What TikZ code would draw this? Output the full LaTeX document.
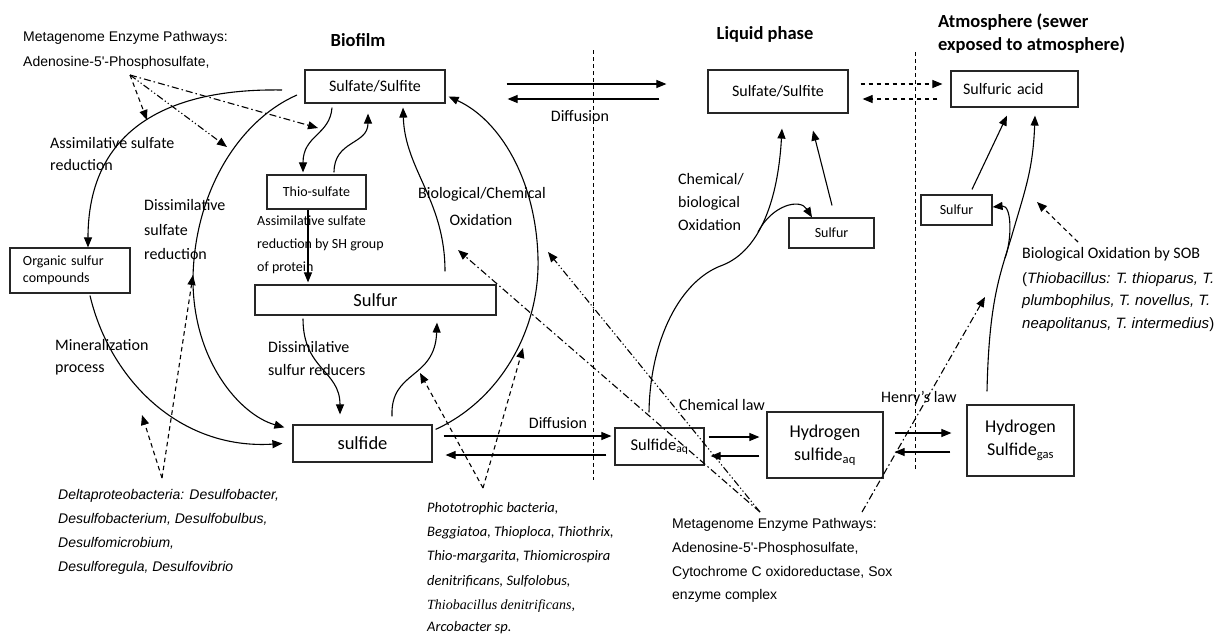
\documentclass[tikz,border=0pt]{standalone}
\usepackage{fontspec}
\setmainfont{Carlito}
\newfontfamily\arialf{Liberation Sans}
\newfontfamily\timesf{Liberation Serif}
\usetikzlibrary{arrows.meta}
\begin{document}
\begin{tikzpicture}[x=1pt,y=-1pt,
  box/.style={draw=black!85,line width=1.2pt,inner sep=0pt,align=center},
  arr/.style={line width=1.1pt,draw=black,-{Triangle[length=10pt,width=8pt]}},
  dsh/.style={line width=1.1pt,dash pattern=on 4.5pt off 3.5pt},
  dd/.style={line width=1.1pt,dash pattern=on 7pt off 3pt on 1.5pt off 3pt},
  ddd/.style={line width=1.1pt,dash pattern=on 7pt off 2.5pt on 1.2pt off 2.5pt on 1.2pt off 2.5pt},
  vline/.style={line width=1pt,dash pattern=on 4pt off 3pt},
  tx/.style={inner sep=0pt,anchor=base west},
  txc/.style={inner sep=0pt,anchor=base},
  f16/.style={font=\fontsize{16}{19}\selectfont},
  f14/.style={font=\fontsize{14}{17}\selectfont},
  f18/.style={font=\fontsize{18.5}{23}\selectfont},
  hd/.style={font=\fontsize{18.5}{22}\selectfont\bfseries},
  ar/.style={font=\arialf\fontsize{14}{17}\selectfont},
  ari/.style={font=\arialf\itshape\fontsize{14}{17}\selectfont},
  sob/.style={font=\arialf\itshape\fontsize{15}{18}\selectfont},
  ph/.style={font=\itshape\fontsize{14.5}{17}\selectfont},
]
\fill[white] (0,0) rectangle (1221,635);
\useasboundingbox (0,0) rectangle (1221,635);

% ---------- boxes ----------
\node[box,f16,minimum width=140pt,minimum height=33pt] (ss1) at (375,86.5) {Sulfate/Sulfite};
\node[box,f14,minimum width=99pt,minimum height=34pt] (thio) at (316.5,192) {Thio-sulfate};
\node[box,f14,minimum width=120pt,minimum height=45pt,text width=94pt,inner xsep=13pt,align=left] (org) at (70,270.5) {Organic sulfur\\compounds};
\node[box,f18,minimum width=241pt,minimum height=30pt] (sulfurB) at (375.5,300) {Sulfur};
\node[box,f18,minimum width=139pt,minimum height=37pt] (sulfide) at (362.5,443.5) {sulfide};
\node[box,f16,minimum width=140pt,minimum height=43pt] (ss2) at (778,91.5) {Sulfate/Sulfite};
\node[box,f14,minimum width=85pt,minimum height=30pt] (sulfurL) at (831.5,233) {Sulfur};
\node[box,f16,minimum width=127pt,minimum height=36pt,text width=103pt,inner xsep=12pt,align=left] (sacid) at (1014.5,89) {Sulfuric acid};
\node[box,f14,minimum width=71pt,minimum height=30pt] (sulfurA) at (956.5,210) {Sulfur};
\node[box,font=\fontsize{16.5}{20}\selectfont,minimum width=89pt,minimum height=37pt] (saq) at (659.5,446.5) {Sulfide\textsubscript{aq}};
\node[box,font=\fontsize{18}{23}\selectfont,minimum width=116pt,minimum height=66pt] (h2saq) at (825,445) {Hydrogen\\sulfide\textsubscript{aq}};
\node[box,font=\fontsize{18}{23}\selectfont,minimum width=107pt,minimum height=71pt] (h2sgas) at (1020.5,440.5) {Hydrogen\\Sulfide\textsubscript{gas}};

% ---------- headings ----------
\node[txc,hd] (hbio) at (358,46) {Biofilm};
\node[txc,hd] (hliq) at (765,39) {Liquid phase};
\node[tx,hd] (hatm1) at (938,27) {Atmosphere (sewer};
\node[tx,hd] (hatm2) at (938,50) {exposed to atmosphere)};

% ---------- labels ----------
\node[tx,ar] (mg1a) at (23,41) {Metagenome Enzyme Pathways:};
\node[tx,ar] (mg1b) at (23,66) {Adenosine-5'-Phosphosulfate,};
\node[tx,f16] (asr1) at (50,148) {Assimilative sulfate};
\node[tx,f16] (asr2) at (50,170) {reduction};
\node[tx,f16] (dsr1) at (144,210) {Dissimilative};
\node[tx,f16] (dsr2) at (144,235) {sulfate};
\node[tx,f16] (dsr3) at (144,259) {reduction};
\node[tx,f16] (min1) at (55,350) {Mineralization};
\node[tx,f16] (min2) at (55,372) {process};
\node[tx,f14] (ash1) at (257,225) {Assimilative sulfate};
\node[tx,f14] (ash2) at (257,248) {reduction by SH group};
\node[tx,f14] (ash3) at (257,271) {of protein};
\node[tx,f16] (dsu1) at (268,352) {Dissimilative};
\node[tx,f16] (dsu2) at (268,375) {sulfur reducers};
\node[txc,f16] (bco1) at (482,198) {Biological/Chemical};
\node[txc,f16] (bco2) at (481,225) {Oxidation};
\node[txc,f16] (dif1) at (580,121) {Diffusion};
\node[txc,f16] (dif2) at (558,428) {Diffusion};
\node[tx,f16] (cbo1) at (678,184) {Chemical/};
\node[tx,f16] (cbo2) at (678,207) {biological};
\node[tx,f16] (cbo3) at (678,230) {Oxidation};
\node[tx,f16] (claw) at (679,410) {Chemical law};
\node[tx,f16] (hlaw) at (881,402) {Henry’s law};
\node[tx,f16] (sob1) at (1022,258) {Biological Oxidation by SOB};
\node[tx,sob] (sob2) at (1022,283) {{\upshape(}Thiobacillus: T. thioparus, T.};
\node[tx,sob] (sob3) at (1022,305) {plumbophilus, T. novellus, T.};
\node[tx,sob] (sob4) at (1022,328) {neapolitanus, T. intermedius{\upshape)}};
\node[tx,ari] (del1) at (58,499) {Deltaproteobacteria: Desulfobacter,};
\node[tx,ari] (del2) at (58,523) {Desulfobacterium, Desulfobulbus,};
\node[tx,ari] (del3) at (58,547) {Desulfomicrobium,};
\node[tx,ari] (del4) at (58,571) {Desulforegula, Desulfovibrio};
\node[tx,ph] (pho1) at (427,512) {Phototrophic bacteria,};
\node[tx,ph] (pho2) at (427,536) {Beggiatoa, Thioploca, Thiothrix,};
\node[tx,ph] (pho3) at (427,560) {Thio-margarita, Thiomicrospira};
\node[tx,ph] (pho4) at (427,585) {denitrificans, Sulfolobus,};
\node[tx,font=\timesf\itshape\fontsize{14}{17}\selectfont] (pho5) at (427,609) {Thiobacillus denitrificans,};
\node[tx,ph] (pho6) at (427,631) {Arcobacter sp.};
\node[tx,ar] (mg2a) at (672,528) {Metagenome Enzyme Pathways:};
\node[tx,ar] (mg2b) at (672,552) {Adenosine-5'-Phosphosulfate,};
\node[tx,ar] (mg2c) at (672,576) {Cytochrome C oxidoreductase, Sox};
\node[tx,ar] (mg2d) at (672,599) {enzyme complex};

% ---------- coordinates ----------
\coordinate (mgA) at (130,75);
\coordinate (mgT1) at (147,120);
\coordinate (mgT2) at (227,147);
\coordinate (mgT3) at (318,128);
\coordinate (oa) at (282,90);
\coordinate (ia) at (297,95);
\coordinate (dA) at (162,478);
\coordinate (dT1) at (142,415);
\coordinate (dT2) at (193,275);
\coordinate (pA) at (483,488);
\coordinate (pT1) at (420,373);
\coordinate (pT2) at (523,348);
\coordinate (mbA) at (760,512);
\coordinate (mbT1) at (458,250);
\coordinate (mbT2) at (548,252);
\coordinate (mbB) at (862,512);
\coordinate (mbT3) at (985,297);
\coordinate (sobA) at (1078,242);
\coordinate (sobT) at (1037,202);
\coordinate (brA) at (1005,258);
\coordinate (brL) at (758,232);
\coordinate (v1a) at (593,50);
\coordinate (v1b) at (593,480);
\coordinate (v2a) at (915,52);
\coordinate (v2b) at (915,470);

% ---------- phase separators ----------
\draw[vline] (v1a) -- (v1b);
\draw[vline] (v2a) -- (v2b);

% ---------- biofilm cycle ----------
\draw[arr] (oa) .. controls (160,88) and (88,135) .. ([xshift=18pt]org.north);
\draw[arr] (ia) .. controls (240,120) and (195,190) .. (193,277) .. controls (192,360) and (240,415) .. ([xshift=-8pt,yshift=-3pt]sulfide.north west);
\draw[arr] ([xshift=20pt,yshift=-2pt]org.south) .. controls (110,380) and (180,450) .. ([xshift=-10pt]sulfide.west);
\draw[arr] ([xshift=3pt,yshift=-5pt]sulfide.north east) .. controls (500,400) and (540,330) .. (538,258) .. controls (536,180) and (500,120) .. ([xshift=3pt,yshift=-10pt]ss1.east);
\draw[arr] ([xshift=-43pt,yshift=-4pt]ss1.south) .. controls (330,135) and (303,135) .. ([xshift=-13.5pt,yshift=2pt]thio.north);
\draw[arr] ([xshift=17.5pt,yshift=2pt]thio.north) .. controls (334,140) and (368,145) .. ([xshift=-7pt,yshift=-10pt]ss1.south);
\draw[arr] ([xshift=69.5pt,yshift=13pt]sulfurB.north) .. controls (445,200) and (405,170) .. ([xshift=28pt,yshift=-4pt]ss1.south);
\draw[arr] ([xshift=-8.5pt]thio.south) -- ([xshift=-67.5pt,yshift=2pt]sulfurB.north);
\draw[arr] ([xshift=-72.5pt,yshift=-3pt]sulfurB.south) .. controls (303,370) and (340,370) .. ([xshift=-22.5pt,yshift=10pt]sulfide.north);
\draw[arr] ([xshift=29.5pt,yshift=8pt]sulfide.north) .. controls (390,370) and (435,380) .. ([xshift=61.5pt,yshift=-7pt]sulfurB.south);

% ---------- diffusion ----------
\draw[arr] ([xshift=61pt,yshift=2.5pt]ss1.east) -- ([xshift=-41pt,yshift=7.5pt]ss2.west);
\draw[arr] ([xshift=-48pt,yshift=-7.5pt]ss2.west) -- ([xshift=62pt,yshift=-12.5pt]ss1.east);
\draw[arr] ([xshift=11pt,yshift=7.5pt]sulfide.east) -- ([xshift=-3pt,yshift=10.5pt]saq.west);
\draw[arr] ([xshift=-8pt,yshift=-8.5pt]saq.west) -- ([xshift=13pt,yshift=-11.5pt]sulfide.east);

% ---------- liquid phase ----------
\draw[arr,dsh] ([xshift=12pt,yshift=7.5pt]ss2.east) -- ([xshift=-8pt,yshift=5pt]sacid.west);
\draw[arr,dsh] ([xshift=-13pt,yshift=-10pt]sacid.west) -- ([xshift=14pt,yshift=-7.5pt]ss2.east);
\draw[arr] ([xshift=0.5pt,yshift=12pt]sulfurL.north) -- ([xshift=35pt,yshift=-17pt]ss2.south);
\draw[arr] ([xshift=-10.5pt,yshift=15pt]saq.north) .. controls (650,340) and (680,280) .. (723,265) .. controls (760,250) and (778,200) .. ([xshift=4pt,yshift=-15pt]ss2.south);
\draw[arr] (brL) .. controls (772,205) and (800,198) .. ([xshift=-19.5pt]sulfurL.north);
\draw[arr] ([xshift=4pt,yshift=9.5pt]saq.east) -- ([xshift=-7pt,yshift=8pt]h2saq.west);
\draw[arr] ([xshift=-7pt,yshift=-11pt]h2saq.west) -- ([xshift=6pt,yshift=-9.5pt]saq.east);
\draw[arr] ([xshift=11pt,yshift=12pt]h2saq.east) -- ([xshift=-15pt,yshift=7.5pt]h2sgas.west);
\draw[arr] ([xshift=-16pt,yshift=-11.5pt]h2sgas.west) -- ([xshift=11pt,yshift=-7pt]h2saq.east);

% ---------- atmosphere ----------
\draw[arr] ([xshift=15.5pt,yshift=5pt]sulfurA.north) -- ([xshift=-7.5pt,yshift=-8pt]sacid.south);
\draw[arr] ([xshift=-33.5pt,yshift=13pt]h2sgas.north) .. controls (989,300) and (1000,275) .. (1012,235) .. controls (1025,190) and (1033,170) .. ([xshift=20.5pt,yshift=-8pt]sacid.south);
\draw[arr] (brA) .. controls (1012,240) and (1012,205) .. ([yshift=3pt]sulfurA.east);
\draw[arr,dsh] (sobA) -- (sobT);

% ---------- pointer arrows ----------
\draw[arr,dsh] (mgA) -- (mgT1);
\draw[arr,ddd] (mgA) -- (mgT2);
\draw[arr,dd] (mgA) -- (mgT3);
\draw[arr,dsh] (dA) -- (dT1);
\draw[arr,dsh] (dA) -- (dT2);
\draw[arr,dsh] (pA) -- (pT1);
\draw[arr,dsh] (pA) -- (pT2);
\draw[arr,dd] (mbA) -- (mbT1);
\draw[arr,ddd] (mbA) -- (mbT2);
\draw[arr,dd] (mbB) -- (mbT3);
\end{tikzpicture}
\end{document}
